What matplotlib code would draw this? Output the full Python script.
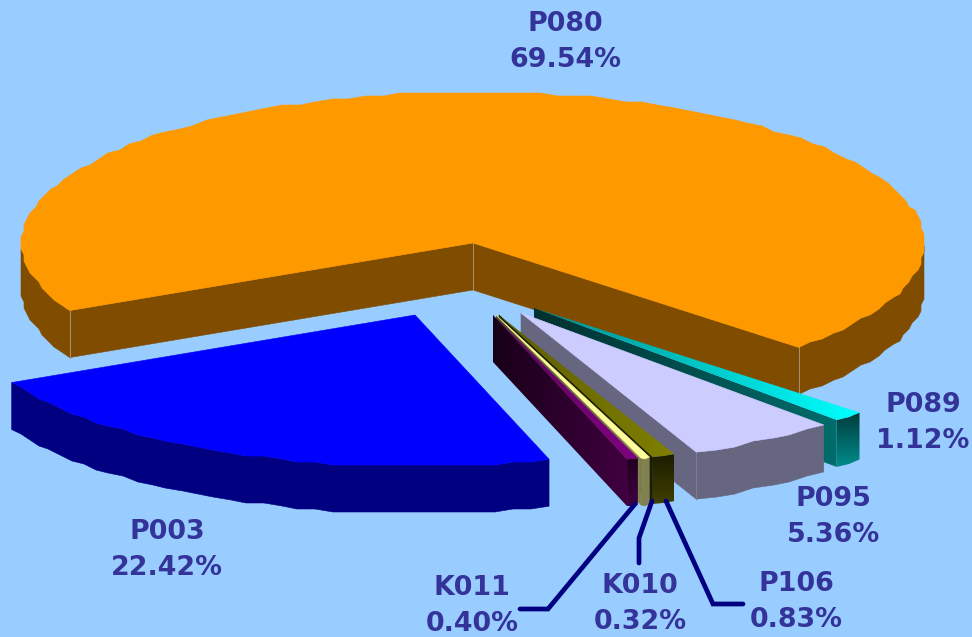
import numpy as np
import matplotlib
matplotlib.use("Agg")
import matplotlib.pyplot as plt
from matplotlib.patches import Polygon
from matplotlib.colors import LinearSegmentedColormap

# clockwise from the right hand corner of the big slice
names = ["P089", "P095", "P106", "K010", "K011", "P003", "P080"]
shares = [1.12, 5.36, 0.83, 0.32, 0.40, 22.42, 69.54]

# where the point of each slice sits on the canvas (exploded pie)
apex_x = [534, 521, 499, 496, 493, 415, 473]
apex_y = [308, 313, 315, 315, 315, 315, 243]

top_cols = [("#008c8c", "#00ffff"), ("#ccccff", "#ccccff"), ("#5c5c00", "#808000"),
            ("#ffff99", "#ffff99"), ("#600060", "#800080"), ("#0000ff", "#0000ff"),
            ("#ff9900", "#ff9900")]
cut_cols = [("#003030", "#006c6c"), ("#666680", "#666680"), ("#1c1c00", "#1c1c00"),
            ("#505030", "#808050"), ("#180018", "#400040"), ("#000080", "#000080"),
            ("#804d00", "#804d00")]
rim_cols = [("#003c3c", "#008c8c"), ("#666680", "#666680"), ("#1c1c00", "#404000"),
            ("#808050", "#808050"), ("#200020", "#400040"), ("#000080", "#000080"),
            ("#804d00", "#804d00")]

label_x = [923, 833, 796, 640, 472, 167, 565]
label_y = [423, 517, 602, 604, 606, 550, 42]

# leader lines, outer slices have none
leaders = {
    "K011": ([635, 548, 520], [504, 609, 609]),
    "K010": ([652, 639, 639], [501, 538, 563]),
    "P106": ([666, 713, 743], [501, 604, 604]),
}

bg = "#99ccff"
text_col = "#333399"
rx, ry = 451, 151
depth = 47
first_angle = -43.8
step = 3.0  # the curved edges are a bit rough in the original

fig = plt.figure(figsize=(9.72, 6.37), dpi=100, facecolor=bg)
ax = fig.add_axes([0, 0, 1, 1])
ax.set_axis_off()


def point(cx, cy, deg):
    t = np.radians(deg)
    return cx + rx * np.cos(t), cy - ry * np.sin(t)


def arc(cx, cy, t):
    x, y = point(cx, cy, t)
    x0, y0 = x[0], y[0]
    x1, y1 = x[-1], y[-1]
    x = np.round(x / step) * step
    y = np.round(y / step) * step
    x[0], y[0], x[-1], y[-1] = x0, y0, x1, y1
    return x, y


def fill(xs, ys, cols, z, vertical=False):
    if cols[0] == cols[1]:
        ax.add_patch(Polygon(np.c_[xs, ys], fc=cols[0], ec=cols[0], lw=0.4, zorder=z))
        return
    # two colour gradient, clipped to the polygon
    cmap = LinearSegmentedColormap.from_list("g", cols)
    ramp = np.linspace(0, 1, 64)
    ramp = ramp[:, None] if vertical else ramp[None, :]
    im = ax.imshow(ramp, cmap=cmap, aspect="auto", zorder=z, interpolation="bilinear",
                   extent=[min(xs), max(xs), max(ys), min(ys)], origin="upper")
    clip = Polygon(np.c_[xs, ys], transform=ax.transData, fc="none", ec="none")
    ax.add_patch(clip)
    im.set_clip_path(clip)


def draw_slice(i, start, end, z):
    cx, cy = apex_x[i], apex_y[i]
    n = max(3, int(abs(end - start) / 2.2))
    t = np.linspace(start, end, n)
    top_x, top_y = arc(cx, cy, t)

    # outer rim, front half only
    front = np.sin(np.radians(t)) <= 0
    cuts = np.flatnonzero(np.diff(front)) + 1
    for a, b in zip(np.r_[0, cuts], np.r_[cuts, len(t)]):
        if front[a]:
            seg_x = top_x[a:b]
            seg_y = top_y[a:b]
            fill(np.r_[seg_x, seg_x[::-1]], np.r_[seg_y, seg_y[::-1] + depth],
                 rim_cols[i], z, vertical=True)

    # cut faces, only those turned to the viewer
    for deg, show in ((start, np.cos(np.radians(start)) < 0), (end, np.cos(np.radians(end)) > 0)):
        if show:
            px, py = point(cx, cy, deg)
            fill([cx, px, px, cx], [cy, py, py + depth, cy + depth], cut_cols[i], z + 0.1)
            if i == 6:
                ax.plot([px, px], [py, py + depth], color="#a8916c", lw=0.7, zorder=z + 0.2)
    if i == 6:
        ax.plot([cx, cx], [cy, cy + depth], color="#a8916c", lw=0.7, zorder=z + 0.2)
    elif i == 1:
        px, py = point(cx, cy, end)
        ax.plot([px, px], [py, py + depth], color="#7c7c94", lw=0.7, zorder=z + 0.2)

    # top face
    fill(np.r_[cx, top_x], np.r_[cy, top_y], top_cols[i], z + 0.3)


angles = first_angle - np.cumsum(np.r_[0, np.array(shares) * 3.6])
# big slice first, then the blue one, then right to left
order = [6, 5, 0, 1, 2, 3, 4]
for z, i in enumerate(order):
    draw_slice(i, angles[i], angles[i + 1], z + 1)

for name in leaders:
    lx, ly = leaders[name]
    ax.plot(lx, ly, color="#000080", lw=3.4, solid_capstyle="round", solid_joinstyle="miter", zorder=20)

for i, name in enumerate(names):
    ax.text(label_x[i], label_y[i], "%s\n%.2f%%" % (name, shares[i]), color=text_col,
            family="DejaVu Sans", weight="bold", fontsize=19.4, ha="center", va="center",
            linespacing=1.48, zorder=21)

ax.set_xlim(0, 972)
ax.set_ylim(637, 0)
fig.savefig("out.png", dpi=100, facecolor=bg)
